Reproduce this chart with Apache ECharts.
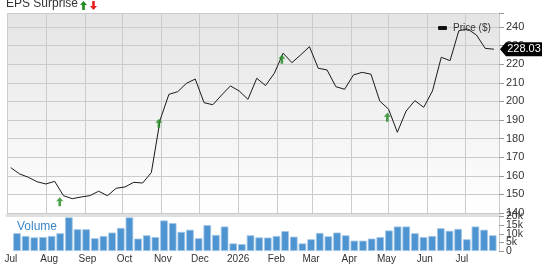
<!DOCTYPE html>
<html><head><meta charset="utf-8">
<script src="https://cdn.jsdelivr.net/npm/echarts@6/dist/echarts.min.js"></script>
<style>html,body{margin:0;padding:0;background:#fff}#c{width:545px;height:264px}</style>
</head><body><div id="c"></div>
<script>
// Weekly closing dates (Fridays)
const weeks = [
'2025-07-04','2025-07-11','2025-07-18','2025-07-25','2025-08-01','2025-08-08','2025-08-15','2025-08-22','2025-08-29',
'2025-09-05','2025-09-12','2025-09-19','2025-09-26','2025-10-03','2025-10-10','2025-10-17','2025-10-24','2025-10-31',
'2025-11-07','2025-11-14','2025-11-21','2025-11-28','2025-12-05','2025-12-12','2025-12-19','2025-12-26',
'2026-01-02','2026-01-09','2026-01-16','2026-01-23','2026-01-30','2026-02-06','2026-02-13','2026-02-20','2026-02-27',
'2026-03-06','2026-03-13','2026-03-20','2026-03-27','2026-04-03','2026-04-10','2026-04-17','2026-04-24',
'2026-05-01','2026-05-08','2026-05-15','2026-05-22','2026-05-29','2026-06-05','2026-06-12','2026-06-19','2026-06-26',
'2026-07-03','2026-07-10','2026-07-17','2026-07-24'];
// Weekly close price ($)
const prices = [164.4,161,159.2,156.8,155.6,157,149.3,147.7,148.6,149.3,
151.7,149.3,153.3,154,156.5,156.1,161.7,190,203.8,205.2,
209.7,212,199.3,198.2,203.4,208.3,205.6,201.1,212.4,208.5,
215.1,225.9,220.8,225,229.4,217.8,216.9,207.9,206.5,214.2,
215.6,214.6,200.2,195.8,183.4,194.8,200.4,196.8,205.6,223.7,
221.9,238,238.9,235.7,228.5,228.03];
// Weekly volume (thousands)
const volumes = [10.3,8.7,7.9,8.1,8.7,10.3,19.5,12.6,12.6,7.4,
8.7,10.7,13.4,19.5,7.2,9.1,8.1,17.7,16.2,11.1,
12.3,7.4,15,9.3,14.2,4.4,4,9.1,7.9,7.8,
8.7,11.5,8.3,4.4,6.8,10.5,8.5,10.7,9.1,6,
6,7.2,8.1,11.9,14.2,14.2,10.3,8.1,8.7,13.2,
11.7,12.8,6.8,14.2,12.3,9.1];
// Tick labels
const monthLabels = ['Jul','Aug','Sep','Oct','Nov','Dec','2026','Feb','Mar','Apr','May','Jun','Jul'];
const volumeTicks = [0, 5, 10, 15, 20];
// EPS surprise markers (all positive)
const surpriseDates = ['2025-08-12','2025-10-30','2026-02-05','2026-04-30'];
const surpriseLevels = [146.1,188.2,222.6,191.5];
const priceAxisMin = 140, priceAxisStep = 10;
const volumeAxisMax = 20, volumeAxisStep = 5;

function toTime(s, shift) {
  const p = s.split('-').map(Number);
  return new Date(p[0], p[1] - 1, p[2] + (shift || 0)).getTime();
}
const xMin = new Date(2025, 6, 1).getTime();
const xMax = new Date(2026, 6, 28).getTime();
const FONT = '"Liberation Sans", Arial, sans-serif';

const priceData = weeks.map((w, i) => [toTime(w), prices[i]]);
const volData = weeks.map((w, i) => [toTime(w, 2), volumes[i]]);
const surpriseData = surpriseDates.map((d, i) => [toTime(d), surpriseLevels[i]]);
const last = priceData[priceData.length - 1];
const volFmt = v => (v === 0 ? '0' : v + 'k');
const volAxisLabelVals = volumeTicks.filter(v => v % 10 === 0);
const volExtraLabelVals = volumeTicks.filter(v => v % 10 !== 0);

const arrowUp = 'path://M3.5,0 L7,4 L4.8,4 L4.8,9 L2.2,9 L2.2,4 L0,4 Z';

const chart = echarts.init(document.getElementById('c'), null, {renderer: 'canvas'});
const timeAxisBase = {
  type: 'time', min: xMin, max: xMax, splitNumber: 13,
  minInterval: 28 * 864e5, maxInterval: 31 * 864e5
};
chart.setOption({
  animation: false,
  textStyle: {fontFamily: FONT},
  title: {text: 'EPS Surprise', left: 6, top: -2, padding: 0,
    textStyle: {fontSize: 12, fontWeight: 'normal', color: '#333', fontFamily: FONT}},
  graphic: [
    {type: 'polygon', left: 80, top: 1, shape: {points: [[3.5,0],[7,4],[4.8,4],[4.8,9],[2.2,9],[2.2,4],[0,4]]}, style: {fill: '#1f8b1f'}},
    {type: 'polygon', left: 90, top: 1, shape: {points: [[3.5,9],[7,5],[4.8,5],[4.8,0],[2.2,0],[2.2,5],[0,5]]}, style: {fill: '#e8201c'}},
    {type: 'text', left: 17, top: 221, style: {text: 'Volume', fill: '#3a87c8', font: '12px ' + FONT}}
  ],
  legend: {left: 433, top: 18, itemWidth: 9, itemHeight: 4, icon: 'roundRect', itemGap: 5,
    data: ['Price ($)'], textStyle: {fontSize: 10, color: '#333', fontFamily: FONT, padding: [0,0,0,1]}},
  grid: [
    {left: 7, right: 46, top: 13, height: 200, show: true, borderWidth: 0,
      backgroundColor: new echarts.graphic.LinearGradient(0, 0, 0, 1, [{offset: 0, color: '#e4e4e4'}, {offset: 1, color: '#ffffff'}])},
    {left: 7, right: 46, top: 216.5, height: 35}
  ],
  xAxis: [
    Object.assign({}, timeAxisBase, {gridIndex: 0, offset: 2,
      axisLine: {show: true, lineStyle: {color: '#e0e0e0', width: 3}},
      axisTick: {show: false}, axisLabel: {show: false},
      splitLine: {show: true, lineStyle: {color: '#cbcbcb', width: 1}}}),
    Object.assign({}, timeAxisBase, {gridIndex: 1,
      axisLine: {show: false}, axisTick: {show: false}, splitLine: {show: false},
      axisLabel: {show: true, color: '#333', fontSize: 10, fontFamily: FONT, margin: 3, hideOverlap: false,
        formatter: function (v) {
          const d = new Date(v);
          const idx = (d.getFullYear() - 2025) * 12 + d.getMonth() - 6;
          return monthLabels[idx] || '';
        }}})
  ],
  yAxis: [
    {type: 'value', gridIndex: 0, position: 'right', min: priceAxisMin, max: 247.5, interval: priceAxisStep,
      axisLine: {show: true, lineStyle: {color: '#cbcbcb'}},
      axisTick: {show: true, length: 5, lineStyle: {color: '#999'}},
      splitLine: {show: true, lineStyle: {color: '#cbcbcb', width: 1}},
      axisLabel: {color: '#333', fontSize: 11, fontFamily: FONT, margin: 7, showMinLabel: true, hideOverlap: false,
        formatter: v => (v % priceAxisStep === 0 ? String(v) : '')}},
    {type: 'value', gridIndex: 1, position: 'right', min: 0, max: volumeAxisMax, interval: volumeAxisStep,
      axisLine: {show: true, lineStyle: {color: '#cbcbcb'}},
      axisTick: {show: true, length: 5, lineStyle: {color: '#999'}, customValues: volumeTicks},
      splitLine: {show: false},
      axisLabel: {color: '#333', fontSize: 10.5, fontFamily: FONT, margin: 7,
        customValues: volAxisLabelVals, hideOverlap: false, showMinLabel: true, showMaxLabel: true,
        formatter: volFmt}}
  ],
  series: [
    {name: 'Volume', type: 'bar', xAxisIndex: 1, yAxisIndex: 1, data: volData, barWidth: 7.6, clip: false,
      itemStyle: {color: '#4d94d0', borderColor: '#a3c6e8', borderWidth: 0.8},
      markLine: {silent: true, symbol: 'none', animation: false,
        lineStyle: {color: 'rgba(0,0,0,0)', width: 0, type: 'solid'},
        label: {show: true, position: 'end', distance: 7, color: '#333', fontSize: 10.5, fontFamily: FONT, opacity: 1,
          formatter: p => volFmt(p.value)},
        emphasis: {disabled: true},
        data: volExtraLabelVals.map(v => ({yAxis: v}))}},
    {name: 'Price ($)', type: 'line', xAxisIndex: 0, yAxisIndex: 0, data: priceData, showSymbol: false,
      clip: false, color: '#111', lineStyle: {color: '#1a1a1a', width: 1}, z: 3,
      markPoint: {symbol: 'path://M0,7 L6,0 L42,0 L42,14 L6,14 Z', symbolSize: [42, 14], symbolOffset: [27, 0],
        itemStyle: {color: '#000'},
        label: {show: true, color: '#fff', fontSize: 11, fontFamily: FONT, offset: [3, 0],
          formatter: p => p.value.toFixed(2)},
        data: [{coord: last, value: last[1]}]}},
    {name: 'EPS', type: 'scatter', xAxisIndex: 0, yAxisIndex: 0, data: surpriseData,
      symbol: arrowUp, symbolSize: [7, 9], itemStyle: {color: '#1f8b1f'}, z: 4}
  ]
});
</script></body></html>
